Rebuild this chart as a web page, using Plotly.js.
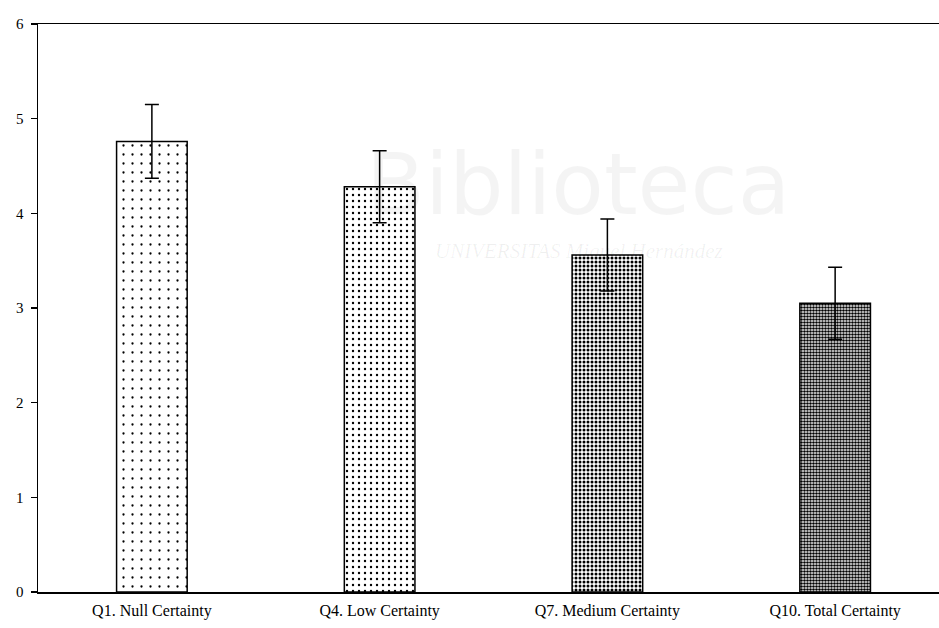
<!DOCTYPE html>
<html>
<head>
<meta charset="utf-8">
<script src="https://cdn.plot.ly/plotly-3.0.1.min.js"></script>
<style>html,body{margin:0;padding:0;background:#fff;}#chart{width:939px;height:628px;}</style>
</head>
<body>
<div id="chart"></div>
<script>
const categories = ["Q1. Null Certainty", "Q4. Low Certainty", "Q7. Medium Certainty", "Q10. Total Certainty"];
const means = [4.76, 4.28, 3.56, 3.05];
const errors = [0.39, 0.38, 0.38, 0.38];
const yTicks = [0, 1, 2, 3, 4, 5, 6];

const patternSizes = [9, 6, 4, 3];
const patternSolidity = [0.05, 0.12, 0.45, 0.6];

const traces = categories.map((c, i) => ({
  type: 'bar',
  x: [c],
  y: [means[i]],
  width: 0.31,
  marker: {
    color: 'white',
    line: {color: 'black', width: 1.5},
    pattern: {shape: '.', fgcolor: 'black', bgcolor: 'white', size: patternSizes[i], solidity: patternSolidity[i]}
  },
  error_y: {type: 'data', array: [errors[i]], visible: true, color: 'black', thickness: 1.5, width: 7},
  showlegend: false,
  hoverinfo: 'skip'
}));

const layout = {
  width: 939, height: 628,
  margin: {l: 38, r: 0, t: 24, b: 36},
  paper_bgcolor: 'white', plot_bgcolor: 'white',
  font: {family: 'Liberation Serif', color: 'black', size: 15},
  xaxis: {
    type: 'category', range: [-0.5, 3.456],
    showline: true, linecolor: 'black', linewidth: 1.5, mirror: true,
    ticks: '', showgrid: false, zeroline: false, ticklabelstandoff: 3,
    tickfont: {family: 'Liberation Serif', size: 16}
  },
  yaxis: {
    range: [0, 6], tickvals: yTicks,
    showline: true, linecolor: 'black', linewidth: 1.5,
    ticks: 'outside', ticklen: 6, tickcolor: 'black', tickwidth: 1.5,
    showgrid: false, zeroline: false, ticklabelstandoff: 4,
    tickfont: {family: 'Liberation Serif', size: 15}
  },
  annotations: [
    {xref: 'paper', yref: 'paper', x: 0.6, y: 0.81, text: 'Biblioteca', showarrow: false,
     font: {family: 'DejaVu Sans', size: 86, color: 'rgba(0,0,0,0.045)'}},
    {xref: 'paper', yref: 'paper', x: 0.6, y: 0.6, text: '<i>UNIVERSITAS Miguel Hernández</i>', showarrow: false,
     font: {family: 'Liberation Serif', size: 21, color: 'rgba(0,0,0,0.06)'}}
  ]
};

Plotly.newPlot('chart', traces, layout, {displayModeBar: false, staticPlot: true});
</script>
</body>
</html>
